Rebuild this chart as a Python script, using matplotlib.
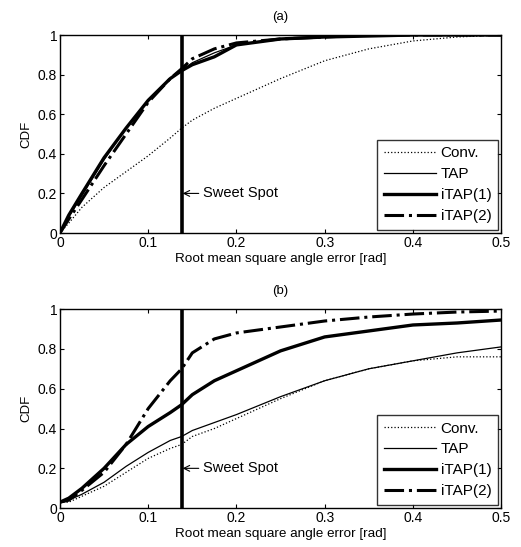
import matplotlib
matplotlib.use("Agg")
import matplotlib.pyplot as plt

plt.rcParams['font.family'] = ['Liberation Sans', 'DejaVu Sans']

x_pts = [0.0, 0.01, 0.025, 0.05, 0.075, 0.1, 0.125, 0.138, 0.15, 0.175, 0.2, 0.25, 0.3, 0.35, 0.4, 0.45, 0.5]

# Panel (a)
a_conv  = [0.0, 0.05, 0.13, 0.23, 0.31, 0.39, 0.48, 0.53, 0.57, 0.63, 0.68, 0.78, 0.87, 0.93, 0.97, 0.99, 1.0]
a_tap   = [0.0, 0.08, 0.19, 0.37, 0.53, 0.67, 0.78, 0.82, 0.86, 0.91, 0.95, 0.98, 0.99, 1.0, 1.0, 1.0, 1.0]
a_itap1 = [0.0, 0.09, 0.20, 0.38, 0.53, 0.67, 0.78, 0.82, 0.85, 0.89, 0.95, 0.98, 0.99, 0.995, 1.0, 1.0, 1.0]
a_itap2 = [0.0, 0.07, 0.17, 0.34, 0.50, 0.66, 0.78, 0.83, 0.88, 0.93, 0.96, 0.98, 0.99, 1.0, 1.0, 1.0, 1.0]

# Panel (b)
b_conv  = [0.03, 0.03, 0.06, 0.11, 0.18, 0.25, 0.30, 0.32, 0.36, 0.40, 0.45, 0.55, 0.64, 0.70, 0.74, 0.76, 0.76]
b_tap   = [0.03, 0.04, 0.07, 0.13, 0.21, 0.28, 0.34, 0.36, 0.39, 0.43, 0.47, 0.56, 0.64, 0.70, 0.74, 0.78, 0.81]
b_itap1 = [0.03, 0.05, 0.10, 0.20, 0.32, 0.41, 0.48, 0.52, 0.57, 0.64, 0.69, 0.79, 0.86, 0.89, 0.92, 0.93, 0.945]
b_itap2 = [0.03, 0.04, 0.09, 0.18, 0.32, 0.50, 0.64, 0.70, 0.78, 0.85, 0.88, 0.91, 0.94, 0.96, 0.975, 0.985, 0.99]

labels = ['Conv.', 'TAP', 'iTAP(1)', 'iTAP(2)']
sweet_spot = 0.138
xticks = [0, 0.1, 0.2, 0.3, 0.4, 0.5]
xticklabels = ['0', '0.1', '0.2', '0.3', '0.4', '0.5']
yticks = [0, 0.2, 0.4, 0.6, 0.8, 1.0]
yticklabels = ['0', '0.2', '0.4', '0.6', '0.8', '1']

fig = plt.figure(figsize=(5.21, 5.47), dpi=100)
ax1 = fig.add_axes([0.115, 0.574, 0.847, 0.362])
ax2 = fig.add_axes([0.115, 0.071, 0.847, 0.364])

styles = [dict(ls=':', lw=0.9), dict(ls='-', lw=0.9), dict(ls='-', lw=2.4), dict(ls='-.', lw=2.2)]

for ax, data, title in [
    (ax1, [a_conv, a_tap, a_itap1, a_itap2], '(a)'),
    (ax2, [b_conv, b_tap, b_itap1, b_itap2], '(b)'),
]:
    for y, lab, st in zip(data, labels, styles):
        ax.plot(x_pts, y, color='black', label=lab, **st)
    ax.axvline(sweet_spot, color='black', lw=2.6)
    ax.annotate('Sweet Spot', xy=(sweet_spot + 0.001, 0.2), xytext=(0.162, 0.2),
                fontsize=10.5, va='center',
                arrowprops=dict(arrowstyle='->', color='black', lw=0.8, shrinkA=1, shrinkB=0))
    ax.set_xlim(0, 0.5)
    ax.set_ylim(0, 1)
    ax.set_xticks(xticks)
    ax.set_xticklabels(xticklabels)
    ax.set_yticks(yticks)
    ax.set_yticklabels(yticklabels)
    ax.tick_params(direction='in', top=True, right=True, labelsize=10, length=3, pad=2)
    ax.set_xlabel('Root mean square angle error [rad]', fontsize=9.7, labelpad=2)
    ax.set_ylabel('CDF', fontsize=9.5, labelpad=4)
    ax.set_title(title, fontsize=9.5, pad=11)
    for s in ax.spines.values():
        s.set_linewidth(1.0)
    leg = ax.legend(loc='lower right', fontsize=11, frameon=True, fancybox=False,
                    edgecolor='black', handlelength=3.4, handletextpad=0.3,
                    borderaxespad=0.2, labelspacing=0.45, borderpad=0.45)
    leg.get_frame().set_linewidth(1.0)

fig.savefig('out.png', dpi=100)
